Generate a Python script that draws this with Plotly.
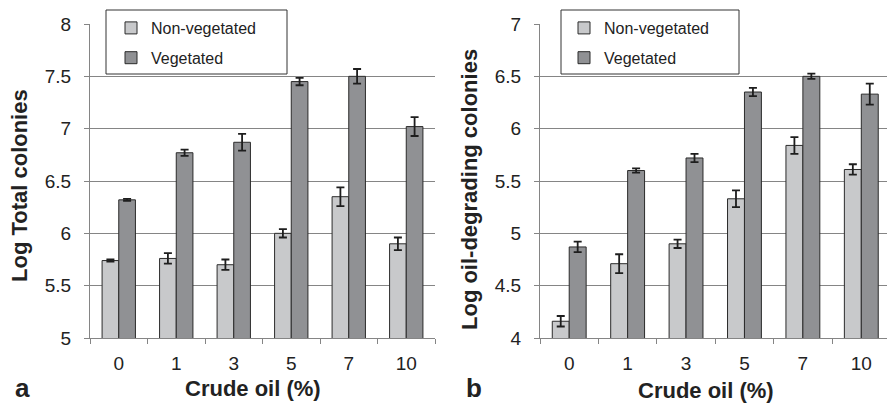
import plotly.graph_objects as go

categories = ["0", "1", "3", "5", "7", "10"]

total_nonveg = [5.74, 5.76, 5.70, 6.00, 6.35, 5.90]
total_nonveg_err = [0.01, 0.05, 0.05, 0.04, 0.09, 0.06]
total_veg = [6.32, 6.77, 6.87, 7.45, 7.50, 7.02]
total_veg_err = [0.01, 0.03, 0.08, 0.035, 0.07, 0.09]

oil_nonveg = [4.16, 4.71, 4.90, 5.33, 5.84, 5.61]
oil_nonveg_err = [0.05, 0.09, 0.04, 0.08, 0.08, 0.05]
oil_veg = [4.87, 5.60, 5.72, 6.35, 6.50, 6.33]
oil_veg_err = [0.05, 0.02, 0.04, 0.04, 0.025, 0.10]

LIGHT = "#c8c9cb"
DARK = "#909194"
EDGE = "#2b2b2b"
GRID = "#858585"
FONT = "Liberation Sans, Arial, sans-serif"

W, H = 887, 403
ML, MR, MT, MB = 90, 0, 24, 65
PW = W - ML - MR
PH = H - MT - MB


def px(x):
    return (x - ML) / PW


def py(y):
    return (H - MB - y) / PH


fig = go.Figure()


def add_bar(name, x, y, err, color, xa, ya, legend, group):
    fig.add_trace(go.Bar(
        name=name, x=x, y=y,
        marker=dict(color=color, line=dict(color=EDGE, width=1)),
        error_y=dict(type="data", array=err, visible=True, color="#1e1e1e",
                     thickness=1.8, width=4),
        xaxis=xa, yaxis=ya, legend=legend, legendgroup=group,
    ))


add_bar("Non-vegetated", categories, total_nonveg, total_nonveg_err, LIGHT, "x", "y", "legend", "a1")
add_bar("Vegetated", categories, total_veg, total_veg_err, DARK, "x", "y", "legend", "a2")
add_bar("Non-vegetated", categories, oil_nonveg, oil_nonveg_err, LIGHT, "x2", "y2", "legend2", "b1")
add_bar("Vegetated", categories, oil_veg, oil_veg_err, DARK, "x2", "y2", "legend2", "b2")

xcommon = dict(
    type="category", tickson="boundaries", ticks="outside", ticklen=5,
    tickcolor=GRID, showline=True, linecolor=GRID, linewidth=1,
    showgrid=False, tickfont=dict(family=FONT, size=19, color="#222"),
    ticklabelstandoff=8, fixedrange=True,
)
ycommon = dict(
    dtick=0.5, ticks="outside", ticklen=5, tickcolor=GRID,
    showline=True, linecolor=GRID, linewidth=1,
    showgrid=True, gridcolor=GRID, gridwidth=1, zeroline=False,
    tickfont=dict(family=FONT, size=19, color="#222"),
    ticklabelstandoff=9, fixedrange=True,
)

legend_common = dict(
    bgcolor="rgba(0,0,0,0)", borderwidth=0, tracegroupgap=6,
    font=dict(family=FONT, size=16, color="#222"),
    xanchor="left", yanchor="top", orientation="v",
)

fig.update_layout(
    width=W, height=H,
    margin=dict(l=ML, r=MR, t=MT, b=MB),
    paper_bgcolor="white", plot_bgcolor="white",
    barmode="group", bargap=0.42, bargroupgap=0,
    showlegend=True,
    xaxis=dict(domain=[0, px(435)], anchor="y", range=[-0.5, 5.5], **xcommon),
    yaxis=dict(domain=[0, 1], anchor="x", range=[5, 8], **ycommon),
    xaxis2=dict(domain=[px(540), 1], anchor="y2", range=[-0.5, 5.44], **xcommon),
    yaxis2=dict(domain=[0, 1], anchor="x2", range=[4, 7], **ycommon),
    legend=dict(x=px(111), y=py(11), **legend_common),
    legend2=dict(x=px(564), y=py(11), **legend_common),
)

# legend frames
for x0, x1 in [(106, 287), (561, 739)]:
    fig.add_shape(type="rect", xref="paper", yref="paper",
                  x0=px(x0), x1=px(x1), y0=py(74), y1=py(10),
                  line=dict(color="#333", width=1), fillcolor="white", layer="above")

title_font = dict(family=FONT, size=22, color="#222")
annos = [
    dict(text="<b>Log Total colonies</b>", x=px(19), y=py(186), textangle=-90),
    dict(text="<b>Log oil-degrading colonies</b>", x=px(469), y=py(190), textangle=-90),
    dict(text="<b>Crude oil (%)</b>", x=px(252.5), y=py(388)),
    dict(text="<b>Crude oil (%)</b>", x=px(706), y=py(390)),
]
for a in annos:
    fig.add_annotation(xref="paper", yref="paper", showarrow=False,
                       xanchor="center", yanchor="middle", font=title_font, **a)

for lab, x in [("a", 22.5), ("b", 474)]:
    fig.add_annotation(text=f"<b>{lab}</b>", xref="paper", yref="paper",
                       x=px(x), y=py(388), showarrow=False,
                       xanchor="center", yanchor="middle",
                       font=dict(family=FONT, size=26, color="#222"))

fig.write_html(
    "out.html",
    config={"displayModeBar": False},
    post_script="document.body.style.margin='0';document.body.style.padding='0';",
)
